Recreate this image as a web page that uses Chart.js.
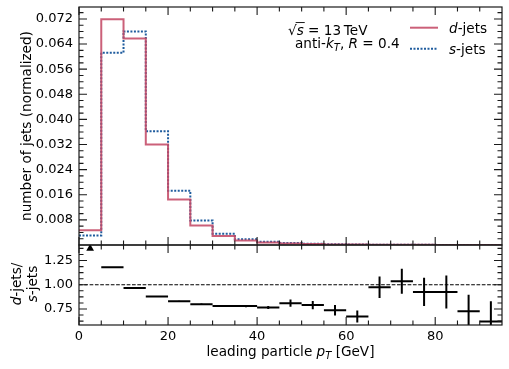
<!DOCTYPE html>
<html>
<head>
<meta charset="utf-8">
<script src="https://cdn.jsdelivr.net/npm/chart.js@4.4.1/dist/chart.umd.min.js"></script>
<style>
  html, body { margin: 0; padding: 0; background: #fff; }
  #wrap { position: relative; width: 509px; height: 369px; overflow: hidden; }
  #mainChart { position: absolute; left: 0; top: 0; }
  #ratioChart { position: absolute; left: 0; top: 240px; }
</style>
</head>
<body>
<div id="wrap">
  <canvas id="mainChart" width="509" height="250"></canvas>
  <canvas id="ratioChart" width="509" height="129"></canvas>
</div>
<script>
// ---- data ----
const binEdges = [0, 5, 10, 15, 20, 25, 30, 35, 40, 45, 50, 55, 60, 65, 70, 75, 80, 85, 90, 95];
const dJets = [0.0047, 0.0719, 0.0658, 0.0320, 0.0145, 0.0062, 0.0029, 0.0014, 0.00077, 0.0005,
               0.0003, 0.00019, 0.00012, 0.00009, 0.00006, 0.00004, 0.00003, 0.00002, 0.000015];
const sJets = [0.0030, 0.0612, 0.0680, 0.0362, 0.0173, 0.0078, 0.0036, 0.0018, 0.0010, 0.00062,
               0.00038, 0.00026, 0.00018, 0.000092, 0.000058, 0.000043, 0.000032, 0.0000275, 0.000024];
// ratio panel: first bin is off scale (drawn as a triangle)
const ratio    = [null, 1.18, 0.967, 0.88, 0.83, 0.80, 0.78, 0.78, 0.765, 0.81,
                  0.79, 0.737, 0.672, 0.974, 1.036, 0.926, 0.926, 0.727, 0.62];
const ratioErr = [null, 0.003, 0.003, 0.004, 0.005, 0.006, 0.008, 0.012, 0.016, 0.038,
                  0.043, 0.055, 0.062, 0.11, 0.13, 0.146, 0.17, 0.17, 0.21];
const offScaleX = [2.5];

// tick labels
const xTicks = [0, 20, 40, 60, 80];
const yMainTicks = [0.008, 0.016, 0.024, 0.032, 0.040, 0.048, 0.056, 0.064, 0.072];
const yRatioTicks = [0.75, 1.00, 1.25];

// minor ticks
const xMinor = [];
for (let v = 5; v < 95; v += 5) if (v % 20 !== 0) xMinor.push(v);
const yMainMinor = [];
for (let k = 1; k <= 37; k++) if (k % 4 !== 0) yMainMinor.push(k * 0.002);
const yRatioMinor = [0.625, 0.6875, 0.8125, 0.875, 0.9375, 1.0625, 1.125, 1.1875, 1.3125, 1.375];

const RED = 'rgba(196, 74, 102, 0.88)';
const BLUE = '#1f5c9e';
const FONT = '"DejaVu Sans"';
const LABEL_SIZE = 13.6;

Chart.defaults.color = '#000';
Chart.defaults.font.family = FONT;
Chart.defaults.font.size = 13;

// ---- helpers ----
function stepPoints(vals) {
  return binEdges.map((e, i) => ({ x: e, y: vals[Math.min(i, vals.length - 1)] }));
}

function richText(ctx, parts, x, y, align, size) {
  size = size || LABEL_SIZE;
  const fontOf = p => (p.it ? 'italic ' : '') + (p.sub ? Math.round(size * 0.7) : size) + 'px ' + FONT;
  let total = 0;
  parts.forEach(p => { ctx.font = fontOf(p); p.w = ctx.measureText(p.t).width; total += p.w; });
  let cx = align === 'center' ? x - total / 2 : (align === 'right' ? x - total : x);
  ctx.textAlign = 'left';
  ctx.textBaseline = 'alphabetic';
  parts.forEach(p => {
    ctx.font = fontOf(p);
    ctx.fillText(p.t, cx, y + (p.sub ? 3 : 0));
    if (p.bar) {
      ctx.beginPath();
      ctx.lineWidth = 0.9;
      ctx.moveTo(cx - 1, y - size * 0.88);
      ctx.lineTo(cx + p.w + 1, y - size * 0.88);
      ctx.stroke();
    }
    cx += p.w;
  });
}

// inward ticks on all four sides + frame
const frameTicks = {
  id: 'frameTicks',
  afterDraw(chart, args, o) {
    const { ctx, chartArea: a } = chart;
    const xs = chart.scales.x, ys = chart.scales.y;
    ctx.save();
    ctx.strokeStyle = '#1a1a1a';
    ctx.lineWidth = 1.1;
    ctx.beginPath();
    const xt = (vals, len) => vals.forEach(v => {
      const px = xs.getPixelForValue(v);
      ctx.moveTo(px, a.bottom); ctx.lineTo(px, a.bottom - len);
      ctx.moveTo(px, a.top); ctx.lineTo(px, a.top + len);
    });
    const yt = (vals, len) => vals.forEach(v => {
      const py = ys.getPixelForValue(v);
      ctx.moveTo(a.left, py); ctx.lineTo(a.left + len, py);
      ctx.moveTo(a.right, py); ctx.lineTo(a.right - len, py);
    });
    xt(xTicks, 8); xt(xMinor, 4.5);
    yt(o.yMajor, 8); yt(o.yMinor, 4.5);
    ctx.stroke();
    ctx.lineWidth = 1.2;
    ctx.strokeRect(a.left, a.top, a.width, a.height);
    ctx.restore();
  }
};

function fixedY(width) {
  return s => { s.width = width; s.paddingTop = 0; s.paddingBottom = 0; s.paddingLeft = 0; s.paddingRight = 0; };
}

// ---- main panel ----
const mainLabels = {
  id: 'mainLabels',
  afterDraw(chart) {
    const ctx = chart.ctx;
    ctx.save();
    ctx.fillStyle = '#000';
    ctx.strokeStyle = '#000';
    // y title
    ctx.save();
    ctx.translate(27, 126);
    ctx.rotate(-Math.PI / 2);
    ctx.font = LABEL_SIZE + 'px ' + FONT;
    ctx.textAlign = 'center';
    ctx.textBaseline = 'middle';
    ctx.fillText('number of jets (normalized)', 0, 0);
    ctx.restore();
    // annotation
    richText(ctx, [{ t: '\u221A' }, { t: 's', it: true, bar: true }, { t: ' = 13\u2009TeV' }], 288, 34.5, 'left');
    richText(ctx, [{ t: 'anti-' }, { t: 'k', it: true }, { t: 'T', it: true, sub: true },
                   { t: ', ' }, { t: 'R', it: true }, { t: ' = 0.4' }], 295, 47.5, 'left');
    // legend
    ctx.lineWidth = 2;
    ctx.strokeStyle = RED;
    ctx.beginPath(); ctx.moveTo(410, 27.7); ctx.lineTo(438, 27.7); ctx.stroke();
    ctx.strokeStyle = BLUE;
    ctx.setLineDash([2, 1.5]);
    ctx.beginPath(); ctx.moveTo(410, 48.7); ctx.lineTo(438, 48.7); ctx.stroke();
    ctx.setLineDash([]);
    ctx.fillStyle = '#000';
    richText(ctx, [{ t: 'd', it: true }, { t: '-jets' }], 449, 32.5, 'left');
    richText(ctx, [{ t: 's', it: true }, { t: '-jets' }], 449, 53.5, 'left');
    ctx.restore();
  }
};

new Chart(document.getElementById('mainChart'), {
  type: 'line',
  data: {
    datasets: [
      { label: 'd-jets', data: stepPoints(dJets), stepped: 'before', borderColor: RED,
        borderWidth: 2, pointRadius: 0, fill: false },
      { label: 's-jets', data: stepPoints(sJets), stepped: 'before', borderColor: BLUE,
        borderWidth: 2, borderDash: [2, 1.5], pointRadius: 0, fill: false }
    ]
  },
  options: {
    responsive: false,
    animation: false,
    layout: { padding: { top: 7, right: 7, bottom: 5, left: 0 } },
    plugins: { legend: { display: false }, tooltip: { enabled: false },
               frameTicks: { yMajor: yMainTicks, yMinor: yMainMinor } },
    scales: {
      x: { type: 'linear', min: 0, max: 95, display: false },
      y: {
        min: 0, max: 0.0758,
        grid: { display: false, drawTicks: false },
        border: { display: false },
        ticks: { padding: 6, callback: v => v.toFixed(3) },
        afterBuildTicks: s => { s.ticks = yMainTicks.map(v => ({ value: v })); },
        afterFit: fixedY(79)
      }
    }
  },
  plugins: [frameTicks, mainLabels]
});

// ---- ratio panel ----
const hSeg = [], vSeg = [];
ratio.forEach((r, i) => {
  if (r === null) return;
  const c = (binEdges[i] + binEdges[i + 1]) / 2;
  hSeg.push({ x: binEdges[i], y: r }, { x: binEdges[i + 1], y: r }, { x: binEdges[i + 1], y: null });
  vSeg.push({ x: c, y: r - ratioErr[i] }, { x: c, y: r + ratioErr[i] }, { x: c, y: null });
});

const ratioLabels = {
  id: 'ratioLabels',
  afterDraw(chart) {
    const ctx = chart.ctx;
    ctx.save();
    ctx.fillStyle = '#000';
    // y title, two lines
    [[16, 'd', '-jets/'], [32, 's', '-jets']].forEach(([x, a, b]) => {
      ctx.save();
      ctx.translate(x, 44);
      ctx.rotate(-Math.PI / 2);
      richText(ctx, [{ t: a, it: true }, { t: b }], 0, 4.5, 'center');
      ctx.restore();
    });
    // x title
    richText(ctx, [{ t: 'leading particle ' }, { t: 'p', it: true }, { t: 'T', it: true, sub: true },
                   { t: ' [GeV]' }], 290.5, 116, 'center');
    ctx.restore();
  }
};

new Chart(document.getElementById('ratioChart'), {
  type: 'line',
  data: {
    datasets: [
      { label: 'unity', data: [{ x: 0, y: 1 }, { x: 95, y: 1 }], borderColor: '#000',
        borderWidth: 1.2, borderDash: [3.7, 1.6], pointRadius: 0 },
      { label: 'ratio', data: hSeg, borderColor: '#000', borderWidth: 2, pointRadius: 0, spanGaps: false },
      { label: 'err', data: vSeg, borderColor: '#000', borderWidth: 2, pointRadius: 0, spanGaps: false },
      { label: 'offscale', data: offScaleX.map(x => ({ x: x, y: 1.374 })), showLine: false,
        pointStyle: 'triangle', pointRadius: 4.5, backgroundColor: '#000', borderColor: '#000', borderWidth: 0 }
    ]
  },
  options: {
    responsive: false,
    animation: false,
    layout: { padding: { top: 5, right: 7, bottom: 0, left: 0 } },
    plugins: { legend: { display: false }, tooltip: { enabled: false },
               frameTicks: { yMajor: yRatioTicks, yMinor: yRatioMinor } },
    scales: {
      x: {
        type: 'linear', min: 0, max: 95,
        grid: { display: false, drawTicks: false },
        border: { display: false },
        ticks: { padding: 4, autoSkip: false, maxRotation: 0 },
        afterBuildTicks: s => { s.ticks = xTicks.map(v => ({ value: v })); },
        afterFit: s => { s.height = 44; s.paddingLeft = 0; s.paddingRight = 0; s.paddingTop = 0; s.paddingBottom = 0; }
      },
      y: {
        min: 0.585, max: 1.41,
        grid: { display: false, drawTicks: false },
        border: { display: false },
        ticks: { padding: 6, callback: v => v.toFixed(2) },
        afterBuildTicks: s => { s.ticks = yRatioTicks.map(v => ({ value: v })); },
        afterFit: fixedY(79)
      }
    }
  },
  plugins: [frameTicks, ratioLabels]
});
</script>
</body>
</html>
